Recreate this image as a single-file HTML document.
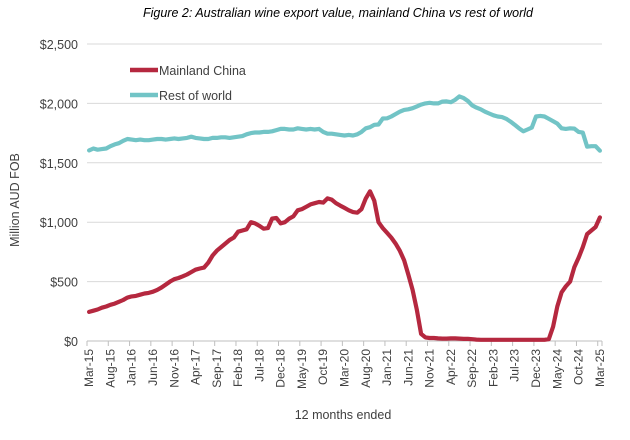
<!DOCTYPE html>
<html><head><meta charset="utf-8"><style>
body{margin:0;background:#fff;width:630px;height:435px;overflow:hidden;font-family:"Liberation Sans",Arial,sans-serif}
svg text{font-family:"Liberation Sans",Arial,sans-serif;fill:#404040}
</style></head><body>
<svg id="chart" width="630" height="435">
<text x="338" y="17" text-anchor="middle" font-size="12.5" font-style="italic" style="fill:#000">Figure 2: Australian wine export value, mainland China vs rest of world</text>
<g id="grid"></g><g id="axes"></g><g id="series"></g>
<text transform="translate(19,200) rotate(-90)" text-anchor="middle" font-size="12.5">Million AUD FOB</text>
<text x="343" y="419" text-anchor="middle" font-size="12.5">12 months ended</text>
<g>
<line x1="130" y1="70" x2="158" y2="70" stroke="#b5283f" stroke-width="4.5"/>
<text x="159" y="75" font-size="12.5">Mainland China</text>
<line x1="130" y1="95" x2="158" y2="95" stroke="#72c4c6" stroke-width="4.5"/>
<text x="159" y="100" font-size="12.5">Rest of world</text>
</g>
</svg>
<script>
const yTicks=[0,500,1000,1500,2000,2500];
const yTickLabels=["$0","$500","$1,000","$1,500","$2,000","$2,500"];
const xLabels=["Mar-15","Aug-15","Jan-16","Jun-16","Nov-16","Apr-17","Sep-17","Feb-18","Jul-18","Dec-18","May-19","Oct-19","Mar-20","Aug-20","Jan-21","Jun-21","Nov-21","Apr-22","Sep-22","Feb-23","Jul-23","Dec-23","May-24","Oct-24","Mar-25"];
const chinaValues=[245,255,265,280,290,305,315,330,345,365,375,380,390,400,405,415,430,450,475,500,520,530,545,560,580,600,610,618,660,720,760,790,820,850,870,920,930,940,1000,990,970,945,950,1030,1035,990,1000,1030,1050,1100,1110,1130,1150,1160,1170,1165,1200,1190,1160,1140,1120,1100,1085,1080,1110,1200,1260,1180,1000,950,910,870,820,760,680,560,430,260,60,30,25,25,22,20,20,22,22,20,18,18,15,12,10,10,10,10,10,10,10,10,10,10,10,10,10,10,10,10,15,120,290,410,460,500,620,700,790,900,930,960,1040];
const rowValues=[1604,1620,1610,1615,1620,1640,1655,1665,1685,1700,1695,1690,1695,1690,1690,1695,1700,1700,1695,1700,1705,1700,1705,1710,1720,1710,1705,1700,1700,1710,1710,1715,1715,1710,1715,1720,1725,1740,1750,1755,1755,1760,1760,1765,1775,1785,1785,1780,1780,1790,1785,1780,1785,1780,1785,1760,1745,1745,1740,1735,1730,1735,1730,1740,1760,1790,1800,1820,1822,1873,1875,1890,1910,1930,1945,1950,1960,1975,1990,2000,2005,2000,2000,2015,2017,2010,2030,2059,2045,2020,1983,1965,1950,1930,1915,1900,1890,1885,1870,1847,1820,1790,1765,1780,1796,1890,1895,1890,1870,1850,1830,1790,1785,1790,1788,1760,1754,1636,1640,1640,1602];
const NS="http://www.w3.org/2000/svg";
const X0=87,X1=602,Y0=341,YTOP=44,YMAX=2500;
const n=chinaValues.length;
const step=(X1-X0)/n;
function xScale(i){return X0+step*(i+0.5);}
function yScale(v){return Y0-(v/YMAX)*(Y0-YTOP);}
function mk(tag,attrs,parent){const e=document.createElementNS(NS,tag);for(const k in attrs)e.setAttribute(k,attrs[k]);parent.appendChild(e);return e;}
const grid=document.getElementById('grid'),axes=document.getElementById('axes'),ser=document.getElementById('series');
yTicks.forEach((v,k)=>{
  const y=yScale(v);
  if(v>0){const l=mk('line',{x1:X0,x2:X1,y1:y,y2:y,stroke:'#d9d9d9','stroke-width':1},grid);
  
  }
  const t=mk('text',{x:78,y:y+5,'text-anchor':'end','font-size':'12.5'},axes);
  t.textContent=yTickLabels[k];
  
  
});
const ax=mk('line',{x1:X0,x2:X1,y1:Y0,y2:Y0,stroke:'#bfbfbf','stroke-width':1},axes);


xLabels.forEach((lab,k)=>{
  const i=k*5;
  const tx=X0+step*i;
  const tk=mk('line',{x1:tx,x2:tx,y1:Y0,y2:Y0+5,stroke:'#bfbfbf'},axes);
  
  
  const x=xScale(i)+4;
  const t=mk('text',{transform:`translate(${x},${Y0+8}) rotate(-90)`,'text-anchor':'end','font-size':'12'},axes);
  t.textContent=lab;
  
  
});
const et=mk('line',{x1:X1,x2:X1,y1:Y0,y2:Y0+5,stroke:'#bfbfbf'},axes);


function drawLine(vals,color,name){
  const d=vals.map((v,i)=>(i?'L':'M')+xScale(i).toFixed(1)+','+yScale(v).toFixed(1)).join('');
  const p=mk('path',{d:d,fill:'none',stroke:color,'stroke-width':4.2,'stroke-linejoin':'round','stroke-linecap':'round'},ser);
  
  
}
drawLine(rowValues,'#72c4c6','rest-of-world-line');
drawLine(chinaValues,'#b5283f','mainland-china-line');
</script>
</body></html>
